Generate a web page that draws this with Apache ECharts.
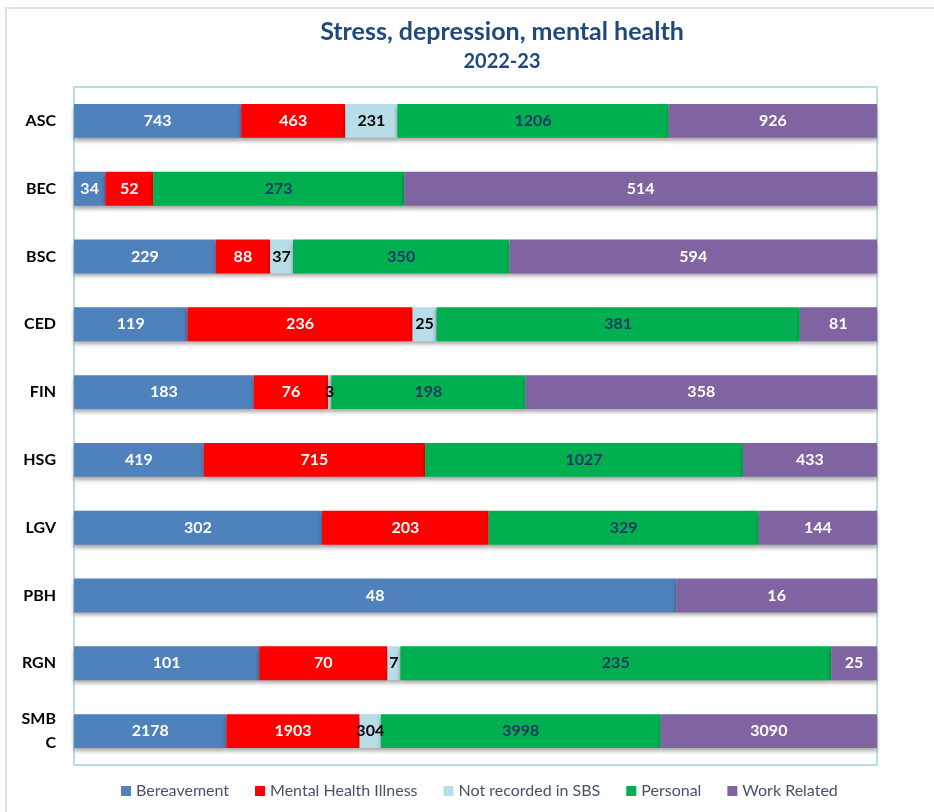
<!DOCTYPE html>
<html>
<head>
<meta charset="utf-8">
<script src="https://cdn.jsdelivr.net/npm/echarts@6/dist/echarts.min.js"></script>
<style>
html,body{margin:0;padding:0;background:#fff;}
#chart{width:934px;height:812px;}
</style>
</head>
<body>
<div id="chart"></div>
<script>
var categories = ['ASC','BEC','BSC','CED','FIN','HSG','LGV','PBH','RGN','SMBC'];
var seriesNames = ['Bereavement','Mental Health Illness','Not recorded in SBS','Personal','Work Related'];
var bereavement = [743, 34, 229, 119, 183, 419, 302, 48, 101, 2178];
var mentalIllness = [463, 52, 88, 236, 76, 715, 203, 0, 70, 1903];
var notRecorded = [231, 0, 37, 25, 3, 0, 0, 0, 7, 304];
var personal = [1206, 273, 350, 381, 198, 1027, 329, 0, 235, 3998];
var workRelated = [926, 514, 594, 81, 358, 433, 144, 16, 25, 3090];

var colors = ['#4f81bd','#ff0000','#b7dde8','#00b050','#8064a2'];
var labelColors = ['#ffffff','#ffffff','#000000','#1f3864','#ffffff'];
var allValues = [bereavement, mentalIllness, notRecorded, personal, workRelated];

// totals per category, bars are 100% stacked
var totals = categories.map(function(c, i){
    var s = 0;
    allValues.forEach(function(arr){ s += arr[i]; });
    return s;
});

var chart = echarts.init(document.getElementById('chart'));
var font = 'Lato';

var series = allValues.map(function(arr, k){
    return {
        name: seriesNames[k],
        type: 'bar',
        stack: 'total',
        barWidth: '50%',
        data: arr.map(function(v, i){ return {value: v / totals[i] * 100, raw: v}; }),
        itemStyle: {
            color: colors[k],
            shadowColor: 'rgba(0,0,0,0.35)',
            shadowBlur: 4,
            shadowOffsetY: 3
        },
        label: {
            show: true,
            position: 'inside',
            color: labelColors[k],
            fontFamily: font,
            fontWeight: 'bold',
            fontSize: 16,
            formatter: function(p){ return p.data.raw ? String(p.data.raw) : ''; }
        },
        emphasis: {disabled: true}
    };
});

var option = {
    animation: false,
    textStyle: {fontFamily: font},
    title: {
        text: 'Stress, depression, mental health',
        subtext: '2022-23',
        left: 497,
        top: 14,
        textAlign: 'center',
        itemGap: 8,
        textStyle: {color: '#1f497d', fontSize: 25, fontWeight: 'bold', fontFamily: font},
        subtextStyle: {color: '#1f497d', fontSize: 20, fontWeight: 'bold', fontFamily: font}
    },
    graphic: [{
        type: 'rect',
        shape: {x: 6, y: 8, width: 960, height: 840},
        style: {fill: 'none', stroke: '#d6e2f0', lineWidth: 2},
        silent: true
    }],
    legend: {
        data: seriesNames,
        left: 116,
        top: 778,
        itemWidth: 10,
        itemHeight: 10,
        itemGap: 26,
        icon: 'rect',
        textStyle: {color: '#44546a', fontSize: 16, fontFamily: font}
    },
    grid: {
        left: 74,
        right: 57,
        top: 87,
        bottom: 47,
        show: true,
        borderColor: '#b7dde8',
        borderWidth: 2,
        backgroundColor: 'transparent'
    },
    xAxis: {
        type: 'value',
        min: 0,
        max: 100,
        show: false
    },
    yAxis: {
        type: 'category',
        data: categories,
        inverse: true,
        axisLine: {show: false},
        axisTick: {show: false},
        axisLabel: {
            color: '#000',
            fontWeight: 'bold',
            fontSize: 16,
            fontFamily: font,
            margin: 18,
            align: 'right',
            lineHeight: 24,
            formatter: function(v){ return v === 'SMBC' ? 'SMB\nC' : v; }
        }
    },
    series: series
};
chart.setOption(option);
</script>
</body>
</html>
